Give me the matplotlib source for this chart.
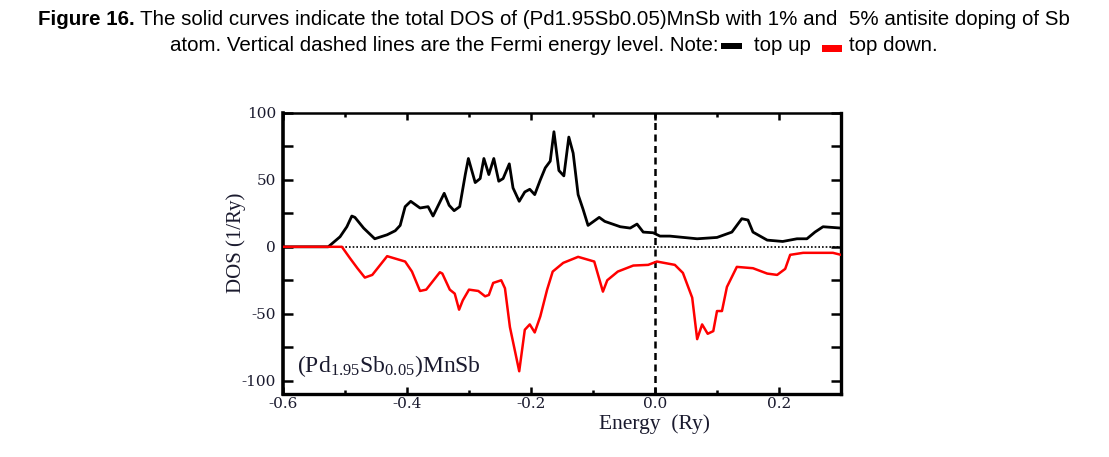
import matplotlib
matplotlib.use("Agg")
import matplotlib.pyplot as plt
from matplotlib.ticker import MultipleLocator
from matplotlib.patches import Rectangle

plt.rcParams['axes.unicode_minus'] = False
plt.rcParams['mathtext.fontset'] = 'custom'
plt.rcParams['mathtext.rm'] = 'Liberation Serif'
plt.rcParams['mathtext.it'] = 'Liberation Serif:italic'

# spin up (black) total DOS
energy_up = [-0.6, -0.527, -0.508, -0.497, -0.489, -0.484, -0.470, -0.452, -0.432, -0.419,
             -0.411, -0.403, -0.394, -0.379, -0.366, -0.358, -0.340, -0.332, -0.324, -0.315,
             -0.306, -0.301, -0.290, -0.282, -0.276, -0.268, -0.260, -0.252, -0.245, -0.235,
             -0.229, -0.219, -0.210, -0.202, -0.194, -0.185, -0.177, -0.169, -0.163, -0.155,
             -0.147, -0.139, -0.132, -0.124, -0.116, -0.108, -0.090, -0.081, -0.056, -0.040,
             -0.029, -0.019, -0.003, 0.008, 0.024, 0.068, 0.100, 0.124, 0.140, 0.150,
             0.158, 0.181, 0.206, 0.229, 0.245, 0.258, 0.271, 0.300]
dos_up = [0, 0, 7.5, 15, 23, 22, 14, 6, 9, 12,
          16, 30, 34, 29, 30, 23, 40, 31, 27, 30,
          54, 66, 48, 51, 66, 54, 66, 49, 51, 62,
          44, 34, 41, 43, 39, 50, 59, 64, 86, 57,
          53, 82, 70, 39, 28, 16, 22, 19, 15, 14,
          17, 11, 10.5, 8, 8, 6, 7, 11, 21, 20,
          11, 5, 4, 6, 6, 11, 15, 14]

# spin down (red) total DOS
energy_dn = [-0.6, -0.505, -0.492, -0.480, -0.468, -0.456, -0.432, -0.403, -0.392, -0.379,
             -0.369, -0.347, -0.343, -0.331, -0.323, -0.316, -0.310, -0.300, -0.285, -0.274,
             -0.268, -0.261, -0.248, -0.242, -0.234, -0.219, -0.210, -0.202, -0.194, -0.185,
             -0.174, -0.165, -0.148, -0.124, -0.098, -0.084, -0.077, -0.060, -0.035, -0.011,
             0.003, 0.032, 0.045, 0.060, 0.068, 0.076, 0.085, 0.094, 0.100, 0.108,
             0.116, 0.132, 0.158, 0.181, 0.197, 0.210, 0.218, 0.239, 0.266, 0.287, 0.300]
dos_dn = [0, 0, -8.5, -16, -23, -21, -7, -11, -18.5, -33,
          -32, -19, -20, -32, -35, -47, -40, -32, -33, -37,
          -36, -27, -25, -31, -60, -93, -62, -58, -64, -52,
          -32, -18.5, -12, -7.5, -11, -33.5, -25, -18.5, -14, -13.5,
          -11, -13.5, -19.5, -38, -69, -58, -65, -63, -48, -48,
          -30, -15, -16, -20, -21, -16.5, -6, -4.5, -4.5, -4.5, -6]

caption_1a = "Figure 16."
caption_1b = "The solid curves indicate the total DOS of (Pd1.95Sb0.05)MnSb with 1% and  5% antisite doping of Sb"
caption_2a = "atom. Vertical dashed lines are the Fermi energy level. Note:"
caption_2b = "top up"
caption_2c = "top down."

W, H = 1109, 457
fig = plt.figure(figsize=(W / 100, H / 100), dpi=100)
ax = fig.add_axes([283 / W, 1 - 394 / H, 558 / W, 281 / H])

ink = '#1a1a2e'
ax.axhline(0, color='black', lw=1.2, ls=(0, (1, 1.2)), zorder=1)
ax.axvline(0, color='black', lw=1.8, ls=(0, (2.8, 1.8)), zorder=1)
ax.plot(energy_up, dos_up, color='black', lw=2.0, zorder=3)
ax.plot(energy_dn, dos_dn, color='#ff0000', lw=1.8, zorder=4)

ax.set_xlim(-0.6, 0.3)
ax.set_ylim(-110, 100)
ax.xaxis.set_major_locator(MultipleLocator(0.2))
ax.xaxis.set_minor_locator(MultipleLocator(0.1))
ax.yaxis.set_major_locator(MultipleLocator(50))
ax.yaxis.set_minor_locator(MultipleLocator(25))
ax.set_xticks([-0.6, -0.4, -0.2, 0.0, 0.2])
ax.set_xticklabels(['-0.6', '-0.4', '-0.2', '0.0', '0.2'])
ax.tick_params(axis='both', which='both', direction='in', top=True, right=True,
               width=1.8, colors='black', labelcolor=ink)
ax.tick_params(axis='x', which='major', length=5, pad=2, labelsize=11)
ax.tick_params(axis='x', which='minor', length=3)
ax.tick_params(axis='y', which='both', length=7, pad=5, labelsize=11)
for lab in ax.get_xticklabels() + ax.get_yticklabels():
    lab.set_family('DejaVu Serif')
for s in ax.spines.values():
    s.set_linewidth(1.8)
ax.spines['left'].set_linewidth(2.6)
ax.spines['bottom'].set_linewidth(2.4)
ax.spines['right'].set_linewidth(2.4)

ax.set_xlabel('Energy  (Ry)', family='Liberation Serif', fontsize=15.5, color=ink, va='center')
ax.xaxis.set_label_coords(0.665, -0.107)
ax.set_ylabel('DOS (1/Ry)', family='Liberation Serif', fontsize=15, color=ink, va='center')
ax.yaxis.set_label_coords(-0.084, 0.537)

ax.text(-0.577, -89, r'(Pd$_{1.95}$Sb$_{0.05}$)MnSb', family='Liberation Serif',
        fontsize=17, color=ink, va='center', ha='left')

# caption, laid out piece by piece and centred
fig.canvas.draw()
rend = fig.canvas.get_renderer()
cap_kw = dict(family=['Liberation Sans', 'DejaVu Sans'], fontsize=14.8, color='black',
              va='baseline', ha='left')


def px_width(t):
    return t.get_window_extent(rend).width


def lay_line(parts, base_px, cx=554):
    total = 0
    for p in parts:
        if isinstance(p, (int, float)):
            total += p
        elif isinstance(p, tuple):
            total += p[1]
        else:
            total += px_width(p)
    x = cx - total / 2
    for p in parts:
        if isinstance(p, (int, float)):
            x += p
        elif isinstance(p, tuple):
            color, w, yc = p
            fig.patches.append(Rectangle((x / W, 1 - (yc + 3) / H), w / W, 6 / H,
                                         transform=fig.transFigure, color=color, lw=0))
            x += w
        else:
            p.set_position((x / W, 1 - base_px / H))
            x += px_width(p)


t1a = fig.text(0, 0, caption_1a, weight='bold', **cap_kw)
t1b = fig.text(0, 0, caption_1b, **cap_kw)
lay_line([t1a, 5, t1b], 25)

t2a = fig.text(0, 0, caption_2a, **cap_kw)
t2b = fig.text(0, 0, caption_2b, **cap_kw)
t2c = fig.text(0, 0, caption_2c, **cap_kw)
lay_line([t2a, 2, ('black', 21, 46), 13, t2b, 11, ('#ff0000', 20, 48.5), 7, t2c], 51)

fig.savefig('out.png', dpi=100)
